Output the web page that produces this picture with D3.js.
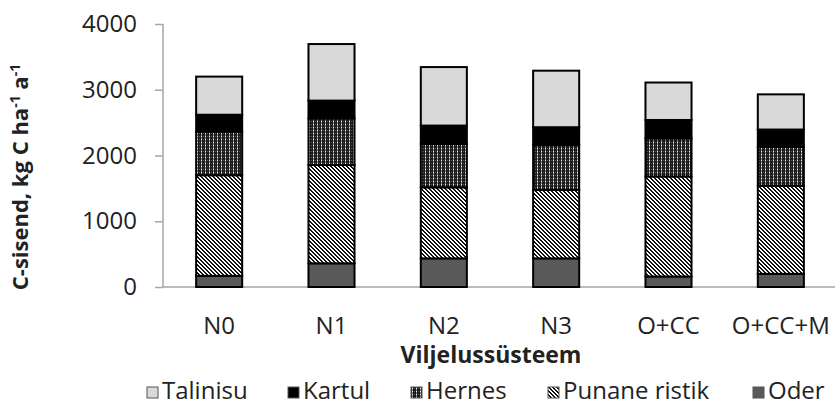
<!DOCTYPE html>
<html>
<head>
<meta charset="utf-8">
<script src="https://cdn.jsdelivr.net/npm/d3@7"></script>
<style>
  body { margin: 0; background: #fff; }
  svg { font-family: "Open Sans", Lato, sans-serif; }
</style>
</head>
<body>
<svg id="chart" width="835" height="406"></svg>
<script>
var systems = ["N0", "N1", "N2", "N3", "O+CC", "O+CC+M"];
var crops = ["Oder", "Punane ristik", "Hernes", "Kartul", "Talinisu"];   // bottom to top
var legendOrder = ["Talinisu", "Kartul", "Hernes", "Punane ristik", "Oder"];

var oder     = [170, 360, 435, 435, 160, 200];
var punane   = [1530, 1495, 1080, 1040, 1520, 1340];
var hernes   = [660, 710, 660, 685, 580, 590];
var kartul   = [260, 270, 280, 270, 280, 265];
var talinisu = [580, 860, 890, 860, 570, 535];

var yTicks = [0, 1000, 2000, 3000, 4000];

var rows = systems.map(function (s, i) {
    return {system: s, "Oder": oder[i], "Punane ristik": punane[i], "Hernes": hernes[i],
            "Kartul": kartul[i], "Talinisu": talinisu[i]};
});

var svg = d3.select("#chart");
var defs = svg.append("defs");

// diagonal stripes (Punane ristik), drawn pixel by pixel
var pStripe = defs.append("pattern").attr("id", "stripe")
    .attr("patternUnits", "userSpaceOnUse").attr("width", 4).attr("height", 4);
pStripe.append("rect").attr("width", 4).attr("height", 4).attr("fill", "#fff");
d3.range(16).forEach(function (k) {
    var i = k % 4, j = Math.floor(k / 4);
    if (((i - j + 8) % 4) < 2) {
        pStripe.append("rect").attr("x", i).attr("y", j).attr("width", 1).attr("height", 1).attr("fill", "#111");
    }
});

// dotted grid (Hernes)
var pGrid = defs.append("pattern").attr("id", "grid")
    .attr("patternUnits", "userSpaceOnUse").attr("width", 4).attr("height", 3);
pGrid.append("rect").attr("width", 4).attr("height", 3).attr("fill", "#1a1a1a");
pGrid.append("rect").attr("x", 1).attr("width", 1).attr("height", 3).attr("fill", "#808080");
pGrid.append("rect").attr("x", 3).attr("y", 1).attr("width", 1).attr("height", 1).attr("fill", "#555");
pGrid.append("rect").attr("x", 1).attr("y", 1).attr("width", 1).attr("height", 1).attr("fill", "#f4f4f4");

var fills = {
    "Talinisu": "#d9d9d9",
    "Kartul": "#000",
    "Hernes": "url(#grid)",
    "Punane ristik": "url(#stripe)",
    "Oder": "#595959"
};

var x = d3.scaleBand().domain(systems).range([163, 837]).paddingInner(0.59).paddingOuter(0.295);
var y = d3.scaleLinear().domain([0, 4000]).range([287, 24]);

// y axis
var yAxis = svg.append("g").attr("transform", "translate(163,0)")
    .call(d3.axisLeft(y).tickValues(yTicks).tickFormat(d3.format("d")).tickSize(8).tickPadding(18));
yAxis.select(".domain").attr("stroke", "#a6a6a6").attr("stroke-width", 1.5).attr("d", "M0,24V287");
yAxis.selectAll(".tick line").attr("stroke", "#a6a6a6").attr("stroke-width", 1.5);
yAxis.selectAll(".tick text").attr("font-size", 24).attr("fill", "#222")
    .attr("font-family", "'Open Sans', sans-serif");

// x baseline
svg.append("line").attr("x1", 163).attr("x2", 835).attr("y1", y(0)).attr("y2", y(0))
    .attr("stroke", "#a6a6a6").attr("stroke-width", 1.5);

// stacked bars
var series = d3.stack().keys(crops)(rows);
svg.append("g").selectAll("g")
    .data(series)
    .enter().append("g")
    .attr("fill", function (d) { return fills[d.key]; })
    .selectAll("rect")
    .data(function (d) { return d; })
    .enter().append("rect")
    .attr("x", function (d) { return x(d.data.system); })
    .attr("y", function (d) { return y(d[1]); })
    .attr("width", x.bandwidth())
    .attr("height", function (d) { return y(d[0]) - y(d[1]); })
    .attr("stroke", "#000")
    .attr("stroke-width", 2);

// x labels
svg.append("g").selectAll("text")
    .data(systems)
    .enter().append("text")
    .attr("x", function (d) { return x(d) + x.bandwidth() / 2; })
    .attr("y", 334)
    .attr("text-anchor", "middle")
    .attr("font-size", 24)
    .attr("fill", "#222")
    .text(function (d) { return d; });

// axis titles
svg.append("text").attr("x", 491).attr("y", 363).attr("text-anchor", "middle")
    .attr("font-size", 23).attr("font-weight", "bold").attr("fill", "#222")
    .text("Viljelussüsteem");

var yt = svg.append("text").attr("transform", "translate(28,177) rotate(-90)")
    .attr("text-anchor", "middle").attr("font-size", 22).attr("font-weight", "bold").attr("fill", "#222");
yt.append("tspan").text("C-sisend, kg C ha");
yt.append("tspan").attr("font-size", 14).attr("dy", -8).text("-1");
yt.append("tspan").attr("dy", 8).text(" a");
yt.append("tspan").attr("font-size", 14).attr("dy", -8).text("-1");

// legend
var legendX = [147, 288, 411, 548, 753];
var legend = svg.append("g").selectAll("g")
    .data(legendOrder)
    .enter().append("g")
    .attr("transform", function (d, i) { return "translate(" + legendX[i] + ",387)"; });
legend.append("rect").attr("width", 11).attr("height", 11)
    .attr("fill", function (d) { return fills[d]; })
    .attr("stroke", "#555").attr("stroke-width", 1);
legend.append("text").attr("x", 15).attr("y", 12)
    .attr("font-size", 24).attr("fill", "#222")
    .text(function (d) { return d; });
</script>
</body>
</html>
